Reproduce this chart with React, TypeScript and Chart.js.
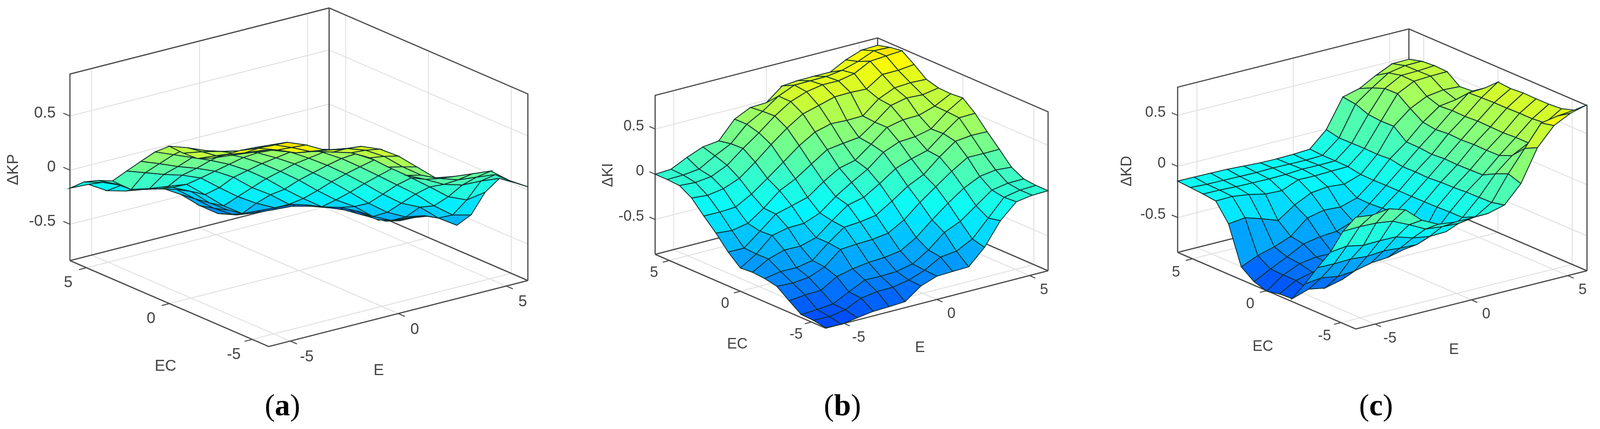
import { useEffect, useRef } from 'react'
import { Chart, registerables } from 'chart.js'

// Register Chart.js components
Chart.register(...registerables)

// Sample points of the fuzzy surfaces on both inputs
const gridSteps = [-6, -5.143, -4.286, -3.429, -2.571, -1.714, -0.857, 0, 0.857, 1.714, 2.571, 3.429, 4.286, 5.143, 6]
const axisTicks = [-5, 0, 5]
const axisTickLabels = ['-5', '0', '5']
const zTicks = [-0.5, 0, 0.5]
const zTickLabels = ['-0.5', '0', '0.5']

// dKP, one row per EC sample, one value per E sample
const dKP = [
  [1.014, 1.008, 0.94, 0.85, 0.813, 0.796, 0.727, 0.62, 0.476, 0.331, 0.3, 0.281, 0.263, 0.132, 0.03],
  [0.945, 0.93, 0.86, 0.78, 0.75, 0.72, 0.66, 0.56, 0.42, 0.3, 0.225, 0.169, 0.15, 0.13, 0.014],
  [0.863, 0.84, 0.78, 0.71, 0.68, 0.63, 0.58, 0.49, 0.36, 0.24, 0.16, 0.07, 0.021, 0.014, -0.006],
  [0.767, 0.74, 0.72, 0.68, 0.64, 0.6, 0.55, 0.47, 0.37, 0.25, 0.118, -0.01, -0.144, -0.218, -0.189],
  [0.678, 0.66, 0.64, 0.62, 0.6, 0.55, 0.47, 0.37, 0.25, 0.123, -0.005, -0.133, -0.285, -0.413, -0.456],
  [0.617, 0.6, 0.58, 0.56, 0.52, 0.46, 0.36, 0.25, 0.127, -0.006, -0.147, -0.274, -0.354, -0.498, -0.609],
  [0.61, 0.58, 0.54, 0.5, 0.44, 0.35, 0.25, 0.125, -0.002, -0.142, -0.287, -0.415, -0.501, -0.533, -0.606],
  [0.618, 0.56, 0.49, 0.42, 0.34, 0.24, 0.125, 0, -0.14, -0.27, -0.374, -0.51, -0.59, -0.608, -0.638],
  [0.509, 0.44, 0.37, 0.3, 0.22, 0.12, 0, -0.14, -0.27, -0.39, -0.44, -0.52, -0.64, -0.69, -0.708],
  [0.365, 0.3, 0.23, 0.17, 0.1, 0, -0.139, -0.248, -0.38, -0.43, -0.47, -0.54, -0.6, -0.73, -0.794],
  [0.219, 0.16, 0.1, 0.05, -0.02, -0.152, -0.279, -0.384, -0.47, -0.48, -0.38, -0.52, -0.62, -0.74, -0.855],
  [0.07, -0.052, -0.087, -0.11, -0.135, -0.274, -0.421, -0.536, -0.55, -0.55, -0.5, -0.47, -0.62, -0.76, -0.878],
  [0.018, -0.06, -0.12, -0.17, -0.22, -0.3, -0.45, -0.56, -0.63, -0.64, -0.62, -0.58, -0.62, -0.77, -0.898],
  [-0.052, -0.1, -0.17, -0.24, -0.29, -0.34, -0.47, -0.6, -0.7, -0.72, -0.72, -0.7, -0.7, -0.754, -0.919],
  [-0.167, -0.175, -0.277, -0.324, -0.353, -0.385, -0.487, -0.632, -0.75, -0.806, -0.831, -0.845, -0.857, -0.9, -0.958],
]

// dKI was read column by column, one list per E sample
const dKIByE = [
  [-0.88, -0.857, -0.85, -0.757, -0.656, -0.628, -0.617, -0.628, -0.51, -0.36, -0.229, -0.088, -0.009, 0, 0],
  [-0.887, -0.86, -0.84, -0.738, -0.665, -0.596, -0.516, -0.518, -0.511, -0.375, -0.23, -0.104, -0.02, 0.004, 0.01],
  [-0.86, -0.83, -0.824, -0.732, -0.647, -0.598, -0.462, -0.36, -0.37, -0.342, -0.22, -0.076, 0, 0.024, 0.095],
  [-0.835, -0.747, -0.736, -0.626, -0.577, -0.564, -0.464, -0.32, -0.227, -0.22, -0.122, -0.007, 0.08, 0.125, 0.166],
  [-0.829, -0.72, -0.65, -0.585, -0.43, -0.415, -0.415, -0.316, -0.18, -0.072, 0.006, 0.127, 0.22, 0.214, 0.187],
  [-0.818, -0.716, -0.654, -0.56, -0.416, -0.288, -0.274, -0.246, -0.132, 0.013, 0.14, 0.276, 0.347, 0.384, 0.382],
  [-0.69, -0.683, -0.647, -0.55, -0.41, -0.274, -0.147, -0.11, -0.004, 0.132, 0.276, 0.412, 0.488, 0.481, 0.466],
  [-0.628, -0.62, -0.61, -0.525, -0.385, -0.246, -0.106, 0, 0.1, 0.246, 0.382, 0.524, 0.602, 0.604, 0.473],
  [-0.62, -0.52, -0.5, -0.42, -0.285, -0.136, 0, 0.1, 0.142, 0.27, 0.428, 0.572, 0.665, 0.68, 0.613],
  [-0.615, -0.5, -0.352, -0.272, -0.136, -0.016, 0.12, 0.242, 0.274, 0.29, 0.42, 0.621, 0.697, 0.682, 0.628],
  [-0.445, -0.411, -0.275, -0.132, -0.009, 0.068, 0.183, 0.313, 0.414, 0.413, 0.424, 0.625, 0.695, 0.684, 0.63],
  [-0.196, -0.226, -0.148, -0.012, 0.117, 0.217, 0.231, 0.324, 0.452, 0.552, 0.567, 0.617, 0.73, 0.708, 0.628],
  [-0.033, -0.041, -0.02, 0.073, 0.224, 0.344, 0.372, 0.365, 0.457, 0.59, 0.643, 0.733, 0.821, 0.76, 0.72],
  [-0.006, -0.007, 0.011, 0.099, 0.222, 0.364, 0.5, 0.509, 0.513, 0.58, 0.655, 0.734, 0.834, 0.833, 0.783],
  [0, 0, 0.013, 0.084, 0.224, 0.36, 0.505, 0.616, 0.604, 0.61, 0.647, 0.753, 0.846, 0.826, 0.79],
]
const dKI = dKIByE[0].map((_, j) => dKIByE.map(col => col[j]))

// dKD, one row per EC sample, one value per E sample
const dKD = [
  [0.252, 0.232, 0.253, 0.203, 0.06, -0.02, -0.04, -0.04, -0.037, 0.005, 0.174, 0.485, 0.66, 0.74, 0.782],
  [0.061, 0.066, 0.06, 0.038, -0.037, -0.12, -0.138, -0.146, -0.123, -0.023, 0.216, 0.424, 0.632, 0.66, 0.677],
  [-0.197, -0.178, -0.211, -0.206, -0.209, -0.26, -0.287, -0.281, -0.183, -0.026, 0.163, 0.3, 0.383, 0.538, 0.637],
  [-0.401, -0.404, -0.399, -0.413, -0.4, -0.413, -0.42, -0.361, -0.184, -0.029, 0.098, 0.248, 0.384, 0.526, 0.628],
  [-0.614, -0.595, -0.622, -0.61, -0.572, -0.559, -0.52, -0.45, -0.188, -0.037, 0.094, 0.245, 0.376, 0.526, 0.627],
  [-0.812, -0.759, -0.788, -0.749, -0.68, -0.62, -0.5, -0.36, -0.19, -0.04, 0.091, 0.248, 0.38, 0.523, 0.63],
  [-0.819, -0.728, -0.689, -0.65, -0.6, -0.5, -0.4, -0.31, -0.191, -0.049, 0.095, 0.24, 0.383, 0.522, 0.62],
  [-0.846, -0.728, -0.658, -0.633, -0.637, -0.55, -0.42, -0.319, -0.191, -0.045, 0.086, 0.246, 0.375, 0.518, 0.63],
  [-0.806, -0.723, -0.645, -0.56, -0.529, -0.517, -0.459, -0.329, -0.191, -0.048, 0.098, 0.234, 0.379, 0.511, 0.52],
  [-0.715, -0.645, -0.6, -0.539, -0.4, -0.364, -0.374, -0.325, -0.194, -0.025, 0.1, 0.252, 0.369, 0.392, 0.435],
  [-0.348, -0.329, -0.379, -0.437, -0.326, -0.248, -0.229, -0.245, -0.19, -0.034, 0.2, 0.332, 0.411, 0.434, 0.425],
  [-0.178, -0.174, -0.196, -0.232, -0.239, -0.173, -0.176, -0.17, -0.167, -0.03, 0.197, 0.424, 0.505, 0.515, 0.518],
  [-0.163, -0.165, -0.173, -0.176, -0.178, -0.175, -0.164, -0.166, -0.164, -0.032, 0.208, 0.421, 0.509, 0.512, 0.523],
  [-0.153, -0.162, -0.164, -0.167, -0.169, -0.165, -0.168, -0.17, -0.164, -0.034, 0.256, 0.374, 0.48, 0.51, 0.513],
  [-0.143, -0.145, -0.147, -0.15, -0.159, -0.168, -0.17, -0.166, -0.156, -0.006, 0.272, 0.314, 0.402, 0.476, 0.479],
]

type Pt = { x: number; y: number }

type Panel = {
  surface: number[][];
  zLabel: string;
  caption: string;
  left: number;
  width: number;
  front: Pt;       // floor corner E=-6, EC=-6
  ecEnd: Pt;       // floor corner E=-6, EC=6
  eEnd: Pt;        // floor corner E=6, EC=-6
  zMin: number;
  zMax: number;
  zScale: number;
  colorMin: number;
  colorMax: number;
  zLabelX: number;
  ecOffset: Pt;
  eOffset: Pt;
  zTitle: Pt;
  ecTitle: Pt;
  eTitle: Pt;
  captionAt: Pt;
  fontSize: number;
}

const panels: Panel[] = [
  {
    surface: dKP, zLabel: 'ΔKP', caption: 'a', left: 0, width: 1396,
    front: { x: 703, y: 887 }, ecEnd: { x: 183, y: 667 }, eEnd: { x: 1381, y: 718 },
    zMin: -0.836, zMax: 0.888, zScale: 277, colorMin: -0.96, colorMax: 0.9,
    zLabelX: -37, ecOffset: { x: -48, y: 39 }, eOffset: { x: 43, y: 41 },
    zTitle: { x: 36, y: 434 }, ecTitle: { x: 433, y: 938 }, eTitle: { x: 991, y: 949 },
    captionAt: { x: 739, y: 1043 }, fontSize: 40,
  },
  {
    surface: dKI, zLabel: 'ΔKI', caption: 'b', left: 1396, width: 1396,
    front: { x: 2160, y: 840 }, ecEnd: { x: 1714, y: 651 }, eEnd: { x: 2742, y: 693 },
    zMin: -0.885, zMax: 0.871, zScale: 231.7, colorMin: -0.89, colorMax: 0.85,
    zLabelX: -29, ecOffset: { x: -40, y: 32 }, eOffset: { x: 38, y: 37 },
    zTitle: { x: 1592, y: 448 }, ecTitle: { x: 1929, y: 882 }, eTitle: { x: 2407, y: 891 },
    captionAt: { x: 2204, y: 1043 }, fontSize: 38,
  },
  {
    surface: dKD, zLabel: 'ΔKD', caption: 'c', left: 2792, width: 1395,
    front: { x: 3548, y: 842 }, ecEnd: { x: 3082, y: 646 }, eEnd: { x: 4153, y: 693 },
    zMin: -0.841, zMax: 0.775, zScale: 261.7, colorMin: -0.85, colorMax: 0.78,
    zLabelX: -31, ecOffset: { x: -43, y: 35 }, eOffset: { x: 39, y: 37 },
    zTitle: { x: 2950, y: 438 }, ecTitle: { x: 3305, y: 888 }, eTitle: { x: 3805, y: 896 },
    captionAt: { x: 3601, y: 1043 }, fontSize: 38,
  },
]

const pageWidth = 4187
const pageHeight = 1098
const boxColor = '#4a4a4a'
const gridColor = '#e2e2e2'
const meshColor = '#10302e'
const textColor = '#444444'

// Colour map: blue through cyan and green to yellow
const colorStops = [
  { t: 0, c: [0, 70, 255] },
  { t: 0.4, c: [0, 250, 255] },
  { t: 0.7, c: [128, 255, 128] },
  { t: 0.97, c: [255, 250, 0] },
  { t: 1, c: [255, 225, 0] },
]

const colorFor = (t: number): string => {
  const v = Math.min(1, Math.max(0, t))
  for (let k = 1; k < colorStops.length; k++) {
    const a = colorStops[k - 1]
    const b = colorStops[k]
    if (v <= b.t) {
      const f = (v - a.t) / (b.t - a.t)
      const mix = a.c.map((c, n) => Math.round(c + (b.c[n] - c) * f))
      return `rgb(${mix[0]}, ${mix[1]}, ${mix[2]})`
    }
  }
  return 'rgb(255, 225, 0)'
}

// Orthographic view of the box, taken from its three floor corners
const project = (p: Panel, e: number, ec: number, z: number): Pt => {
  const a = (e + 6) / 12
  const b = (ec + 6) / 12
  return {
    x: p.front.x + a * (p.eEnd.x - p.front.x) + b * (p.ecEnd.x - p.front.x),
    y: p.front.y + a * (p.eEnd.y - p.front.y) + b * (p.ecEnd.y - p.front.y) - (z - p.zMin) * p.zScale,
  }
}

// Larger means nearer to the viewer (azimuth -37.5 as in the default 3D view)
const depthOf = (p: Panel, e: number, ec: number, z: number): number => {
  const a = (e + 6) / 12
  const b = (ec + 6) / 12
  const cosAz = Math.cos((37.5 * Math.PI) / 180)
  const sinAz = Math.sin((37.5 * Math.PI) / 180)
  const size = (p.eEnd.x - p.front.x) / cosAz
  const sinEl = (p.front.y - p.eEnd.y) / (sinAz * size)
  const cosEl = Math.sqrt(1 - sinEl * sinEl)
  return -(a * sinAz + b * cosAz) * size * cosEl + (z * p.zScale * sinEl) / cosEl
}

const lineSet = (points: Pt[], color: string, width: number) => ({
  data: points,
  showLine: true,
  borderColor: color,
  borderWidth: width,
  pointRadius: 0,
  fill: false,
  tension: 0,
  clip: false as const,
})

// Box, wall grid and floor grid, all drawn behind the surface
const frameDatasets = (p: Panel) => {
  const sets: any[] = []
  const { zMin, zMax } = p
  const P = (e: number, ec: number, z: number) => project(p, e, ec, z)
  axisTicks.forEach(v => {
    sets.push(lineSet([P(v, 6, zMin), P(v, 6, zMax)], gridColor, 2.5))
    sets.push(lineSet([P(6, v, zMin), P(6, v, zMax)], gridColor, 2.5))
    sets.push(lineSet([P(v, -6, zMin), P(v, 6, zMin)], gridColor, 2.5))
    sets.push(lineSet([P(-6, v, zMin), P(6, v, zMin)], gridColor, 2.5))
    // ticks on the two front floor edges
    sets.push(lineSet([P(v, -6, zMin), P(v, -6.4, zMin)], boxColor, 2.5))
    sets.push(lineSet([P(-6, v, zMin), P(-6.35, v, zMin)], boxColor, 2.5))
  })
  zTicks.forEach(z => {
    sets.push(lineSet([P(-6, 6, z), P(6, 6, z), P(6, -6, z)], gridColor, 2.5))
    sets.push(lineSet([P(-6, 6, z), P(-6, 6.4, z)], boxColor, 2.5))
  })
  sets.push(lineSet([P(-6, 6, zMin), P(-6, 6, zMax), P(6, 6, zMax), P(6, -6, zMax), P(6, -6, zMin)], boxColor, 3))
  sets.push(lineSet([P(-6, 6, zMin), P(-6, -6, zMin), P(6, -6, zMin)], boxColor, 3))
  sets.push(lineSet([P(-6, 6, zMin), P(6, 6, zMin), P(6, -6, zMin)], boxColor, 3))
  sets.push(lineSet([P(6, 6, zMin), P(6, 6, zMax)], boxColor, 3))
  return sets
}

// One closed, filled shape per surface cell, ordered far to near
const surfaceDatasets = (p: Panel) => {
  const cells: { depth: number; set: any }[] = []
  const z = p.surface
  for (let j = 0; j < gridSteps.length - 1; j++) {
    for (let i = 0; i < gridSteps.length - 1; i++) {
      const corners = [[i, j], [i + 1, j], [i + 1, j + 1], [i, j + 1], [i, j]]
      const pts = corners.map(([m, n]) => project(p, gridSteps[m], gridSteps[n], z[n][m]))
      const mean = (z[j][i] + z[j][i + 1] + z[j + 1][i + 1] + z[j + 1][i]) / 4
      const depth = depthOf(p, (gridSteps[i] + gridSteps[i + 1]) / 2, (gridSteps[j] + gridSteps[j + 1]) / 2, mean)
      cells.push({
        depth,
        set: {
          ...lineSet(pts, meshColor, 2.2),
          fill: 'shape',
          backgroundColor: colorFor((mean - p.colorMin) / (p.colorMax - p.colorMin)),
        },
      })
    }
  }
  return cells.sort((a, b) => a.depth - b.depth).map(c => c.set)
}

// Tick labels, axis titles and the caption under each plot
const labelPlugin = (p: Panel) => ({
  id: 'panelLabels',
  afterDraw(chart: any) {
    const { ctx, scales } = chart
    const X = (v: number) => scales.x.getPixelForValue(v)
    const Y = (v: number) => scales.y.getPixelForValue(v)
    const font = `${p.fontSize}px "Liberation Sans", Arial, sans-serif`
    ctx.save()
    ctx.fillStyle = textColor
    ctx.font = font
    ctx.textBaseline = 'middle'

    ctx.textAlign = 'right'
    zTicks.forEach((z, k) => {
      const at = project(p, -6, 6, z)
      ctx.fillText(zTickLabels[k], X(at.x + p.zLabelX), Y(at.y - 7))
    })

    ctx.textAlign = 'center'
    axisTicks.forEach((v, k) => {
      const ec = project(p, -6, v, p.zMin)
      ctx.fillText(axisTickLabels[k], X(ec.x + p.ecOffset.x), Y(ec.y + p.ecOffset.y))
      const e = project(p, v, -6, p.zMin)
      ctx.fillText(axisTickLabels[k], X(e.x + p.eOffset.x), Y(e.y + p.eOffset.y))
    })
    ctx.fillText('EC', X(p.ecTitle.x), Y(p.ecTitle.y))
    ctx.fillText('E', X(p.eTitle.x), Y(p.eTitle.y))

    ctx.save()
    ctx.translate(X(p.zTitle.x), Y(p.zTitle.y))
    ctx.rotate(-Math.PI / 2)
    ctx.fillText(p.zLabel, 0, 0)
    ctx.restore()

    // Caption: upright brackets, bold letter
    const serif = '"Liberation Serif", "Times New Roman", serif'
    ctx.fillStyle = '#000000'
    ctx.textAlign = 'left'
    ctx.font = `78px ${serif}`
    const bracket = ctx.measureText('(').width
    ctx.font = `bold 78px ${serif}`
    const letter = ctx.measureText(p.caption).width
    let cx = X(p.captionAt.x) - bracket - letter / 2
    const cy = Y(p.captionAt.y)
    ctx.font = `78px ${serif}`
    ctx.fillText('(', cx, cy)
    cx += bracket
    ctx.font = `bold 78px ${serif}`
    ctx.fillText(p.caption, cx, cy)
    cx += letter
    ctx.font = `78px ${serif}`
    ctx.fillText(')', cx, cy)
    ctx.restore()
  },
})

function SurfacePlot({ panel, fitX, fitY }: { panel: Panel; fitX: number; fitY: number }) {
  const canvasRef = useRef<HTMLCanvasElement>(null)

  useEffect(() => {
    if (!canvasRef.current) return
    // Chart.js paints the first dataset last, so the nearest cell goes first
    const datasets = [...frameDatasets(panel), ...surfaceDatasets(panel)].reverse()
    const chart = new Chart(canvasRef.current, {
      type: 'scatter',
      data: { datasets },
      options: {
        animation: false,
        responsive: false,
        devicePixelRatio: 1,
        layout: { padding: 0 },
        plugins: { legend: { display: false }, tooltip: { enabled: false } },
        events: [],
        scales: {
          x: { type: 'linear', display: false, min: panel.left, max: panel.left + panel.width },
          y: { type: 'linear', display: false, min: 0, max: pageHeight, reverse: true },
        },
      },
      plugins: [labelPlugin(panel)],
    } as any)
    return () => chart.destroy()
  }, [panel])

  return (
    <canvas
      ref={canvasRef}
      width={Math.round(panel.width * fitX)}
      height={Math.round(pageHeight * fitY)}
      style={{ position: 'absolute', left: Math.round(panel.left * fitX), top: 0, display: 'block' }}
    />
  )
}

export default function App() {
  // Fit the three plots to the window that is really there
  const fitX = (window.innerWidth || pageWidth) / pageWidth
  const fitY = (window.innerHeight || pageHeight) / pageHeight
  return (
    <div style={{ position: 'absolute', left: 0, top: 0, width: '100%', height: '100%', background: '#ffffff', overflow: 'hidden' }}>
      {panels.map(p => (
        <SurfacePlot key={p.caption} panel={p} fitX={fitX} fitY={fitY} />
      ))}
    </div>
  )
}
